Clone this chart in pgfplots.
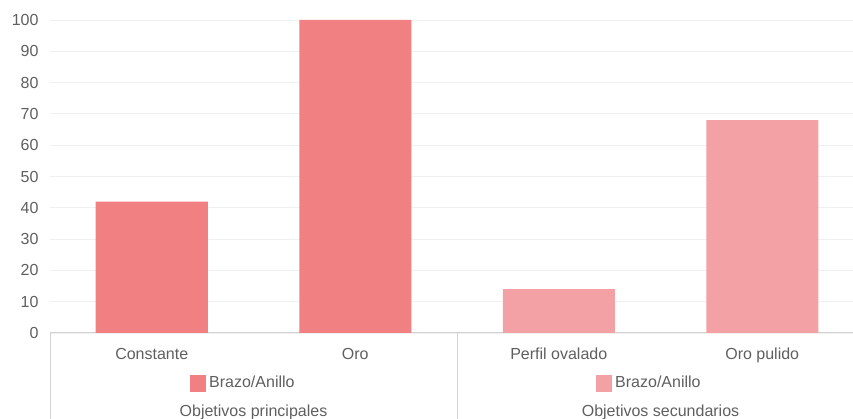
\documentclass[border=0pt]{standalone}
\usepackage{pgfplots}
\pgfplotsset{compat=1.18}
\usepackage{fontspec}
\setmainfont{Liberation Sans}
\definecolor{barA}{RGB}{240,128,130}
\definecolor{barB}{RGB}{244,161,166}
\definecolor{txt}{RGB}{95,95,95}
\definecolor{gridc}{RGB}{240,240,240}
\definecolor{axl}{RGB}{210,210,210}
\begin{document}
\begin{tikzpicture}[x=1pt,y=1pt]
\path[use as bounding box] (0,0) rectangle (853,419);
\begin{axis}[at={(50pt,86pt)}, anchor=south west, scale only axis,
  width=803pt, height=313pt,
  xmin=-0.5, xmax=3.446, ymin=0, ymax=100,
  ytick={0,10,...,100}, xtick={0,1,2,3},
  xticklabels={Constante,Oro,Perfil ovalado,Oro pulido},
  axis x line*=bottom, axis y line*=left,
  x axis line style={draw=axl, line width=1pt, -},
  y axis line style={draw=none},
  major tick length=0pt,
  ymajorgrids, grid style={draw=gridc, line width=0.8pt},
  tick label style={font=\fontsize{16}{18}\selectfont, text=txt},
  /pgf/number format/assume math mode=true,
  yticklabel style={anchor=east, xshift=-8pt},
  xticklabel style={anchor=base, yshift=-27pt},
  clip=false,
]
\addplot[ybar, bar width=112pt, fill=barA, draw=none] coordinates {(0,42) (1,100)};
\addplot[ybar, bar width=112pt, fill=barB, draw=none] coordinates {(2,14) (3,68)};
\end{axis}
\draw[axl, line width=1pt] (50,0) -- (50,86);
\draw[axl, line width=1pt] (457,0) -- (457,86);
\fill[barA] (190,27) rectangle (206,44);
\node[anchor=base west, inner sep=0pt, text=txt, font=\fontsize{16}{18}\selectfont] at (209,31) {Brazo/Anillo};
\fill[barB] (596,27) rectangle (612,44);
\node[anchor=base west, inner sep=0pt, text=txt, font=\fontsize{16}{18}\selectfont] at (615,31) {Brazo/Anillo};
\node[anchor=base, inner sep=0pt, text=txt, font=\fontsize{16}{18}\selectfont] at (253.5,2) {Objetivos principales};
\node[anchor=base, inner sep=0pt, text=txt, font=\fontsize{16}{18}\selectfont] at (660.5,2) {Objetivos secundarios};
\end{tikzpicture}
\end{document}
